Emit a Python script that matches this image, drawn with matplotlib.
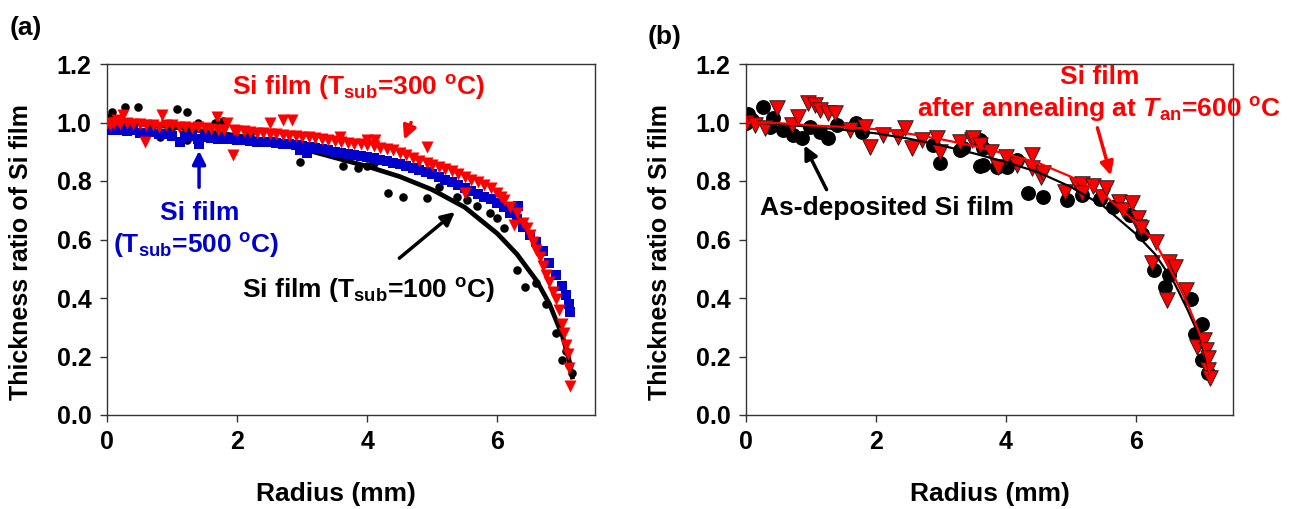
import matplotlib
matplotlib.use("Agg")
import matplotlib.pyplot as plt

plt.rcParams['font.family'] = ['Liberation Sans', 'DejaVu Sans']
plt.rcParams['font.weight'] = 'bold'
plt.rcParams['mathtext.fontset'] = 'custom'
plt.rcParams['mathtext.rm'] = 'Liberation Sans:bold'
plt.rcParams['mathtext.bf'] = 'Liberation Sans:bold'
plt.rcParams['mathtext.it'] = 'Liberation Sans:italic:bold'

# ---------------- Panel (a) data ----------------
a_black_x = [0.0, 0.05, 0.08, 0.15, 0.28, 0.35, 0.48, 0.55, 0.7, 0.82, 1.0, 1.08, 1.23, 1.23, 1.4,
             1.66, 1.78, 2.2, 2.5, 2.97, 3.2, 3.63, 3.85, 4.0, 4.1, 4.32, 4.55, 4.92, 5.1, 5.38,
             5.54, 5.69, 5.89, 6.0, 6.1, 6.3, 6.43, 6.6, 6.75, 6.9, 7.0, 7.05, 7.1, 7.15]
a_black_y = [1.0, 1.02, 1.036, 1.01, 1.054, 1.0, 1.054, 0.967, 0.99, 0.95, 0.985, 1.046, 1.036, 0.94, 0.998,
             0.998, 1.005, 0.96, 0.94, 0.865, 0.92, 0.851, 0.844, 0.85, 0.86, 0.759, 0.745, 0.742, 0.78, 0.745,
             0.735, 0.715, 0.69, 0.674, 0.64, 0.496, 0.437, 0.45, 0.38, 0.28, 0.188, 0.22, 0.17, 0.143]

a_fit_x = [0.0, 0.5, 1.0, 1.5, 2.0, 2.5, 3.0, 3.5, 4.0, 4.5, 5.0, 5.5, 6.0, 6.3, 6.6, 6.8, 7.0, 7.1, 7.15]
a_fit_y = [1.0, 0.995, 0.985, 0.97, 0.955, 0.935, 0.91, 0.88, 0.85, 0.815, 0.77, 0.71, 0.62, 0.55, 0.46, 0.38, 0.27, 0.19, 0.13]

a_red_x = [0.0, 0.05, 0.1, 0.15, 0.2, 0.25, 0.3, 0.4, 0.5, 0.58, 0.6, 0.7, 0.8, 0.85, 0.9, 1.0, 1.1, 1.2,
           1.3, 1.4, 1.5, 1.6, 1.69, 1.7, 1.8, 1.85, 1.94, 1.95, 2.0, 2.1, 2.2, 2.3, 2.4, 2.5, 2.5, 2.6,
           2.7, 2.7, 2.8, 2.85, 2.9, 3.0, 3.1, 3.2, 3.3, 3.4, 3.5, 3.58, 3.6, 3.7, 3.8, 3.9, 4.0, 4.0,
           4.1, 4.12, 4.2, 4.3, 4.4, 4.5, 4.6, 4.7, 4.8, 4.92, 4.92, 5.0, 5.1, 5.2, 5.3, 5.4, 5.5, 5.5,
           5.6, 5.7, 5.8, 5.9, 6.0, 6.05, 6.1, 6.2, 6.25, 6.3, 6.4, 6.45, 6.5, 6.55, 6.6, 6.65, 6.7,
           6.75, 6.8, 6.85, 6.9, 6.95, 7.0, 7.03, 7.06, 7.08, 7.1, 7.12]
a_red_y = [1.0, 0.99, 1.0, 1.01, 0.995, 1.025, 1.0, 0.995, 0.995, 0.933, 0.99, 0.99, 0.985, 1.025, 0.99, 0.99, 0.985, 0.985,
           0.98, 0.985, 0.98, 0.978, 1.02, 0.975, 0.975, 1.0, 0.889, 0.975, 0.97, 0.97, 0.968, 0.965, 0.965, 1.0, 0.962, 0.96,
           1.01, 0.958, 0.955, 1.01, 0.955, 0.952, 0.95, 0.948, 0.945, 0.94, 0.938, 0.95, 0.935, 0.93, 0.928, 0.925, 0.923, 0.94,
           0.918, 0.94, 0.913, 0.91, 0.905, 0.897, 0.89, 0.88, 0.87, 0.917, 0.86, 0.855, 0.848, 0.84, 0.835, 0.825, 0.815, 0.76,
           0.805, 0.795, 0.786, 0.775, 0.76, 0.745, 0.735, 0.71, 0.65, 0.69, 0.656, 0.64, 0.615, 0.59, 0.564, 0.54, 0.51,
           0.48, 0.455, 0.42, 0.395, 0.36, 0.31, 0.28, 0.24, 0.21, 0.16, 0.10]

a_blue_x = [0.0, 0.05, 0.1, 0.2, 0.3, 0.4, 0.5, 0.6, 0.66, 0.8, 0.9, 1.0, 1.12, 1.2, 1.3, 1.4, 1.42, 1.5,
            1.6, 1.7, 1.8, 1.94, 2.0, 2.1, 2.2, 2.3, 2.4, 2.5, 2.6, 2.7, 2.8, 2.9, 2.97, 3.0, 3.08, 3.1,
            3.2, 3.3, 3.4, 3.5, 3.6, 3.7, 3.8, 3.9, 4.0, 4.1, 4.2, 4.3, 4.4, 4.5, 4.6, 4.7, 4.8, 4.9,
            5.0, 5.1, 5.2, 5.3, 5.4, 5.5, 5.6, 5.7, 5.8, 5.9, 6.0, 6.1, 6.2, 6.32, 6.3, 6.4, 6.5, 6.6,
            6.7, 6.8, 6.9, 7.0, 7.05, 7.1, 7.12]
a_blue_y = [0.985, 0.975, 0.98, 0.975, 0.97, 0.975, 0.965, 0.965, 0.967, 0.96, 0.96, 0.955, 0.933, 0.955, 0.955, 0.945, 0.925, 0.95,
            0.948, 0.945, 0.945, 0.944, 0.94, 0.94, 0.937, 0.935, 0.935, 0.932, 0.93, 0.927, 0.925, 0.922, 0.906, 0.92, 0.896, 0.917,
            0.913, 0.91, 0.905, 0.9, 0.896, 0.892, 0.89, 0.885, 0.882, 0.878, 0.872, 0.867, 0.862, 0.857, 0.85, 0.843, 0.837, 0.83,
            0.823, 0.815, 0.805, 0.797, 0.785, 0.775, 0.765, 0.755, 0.745, 0.737, 0.725, 0.71, 0.69, 0.715, 0.67, 0.643, 0.615, 0.59,
            0.56, 0.52, 0.48, 0.44, 0.41, 0.38, 0.352]

# ---------------- Panel (b) data ----------------
b_dep_x = [0.0, 0.03, 0.1, 0.26, 0.37, 0.42, 0.57, 0.72, 0.86, 0.98, 1.14, 1.26, 1.4, 1.7, 1.78, 2.88,
           2.98, 3.29, 3.34, 3.6, 3.6, 3.65, 3.65, 3.86, 4.02, 4.17, 4.34, 4.57, 4.94, 5.18, 5.45, 5.65,
           5.91, 6.1, 6.29, 6.45, 6.52, 6.86, 6.91, 7.02, 7.02, 7.11]
b_dep_y = [1.0, 1.03, 1.01, 1.053, 0.985, 1.015, 0.974, 0.957, 0.947, 0.985, 0.967, 0.947, 0.991, 1.0, 0.967, 0.923,
           0.861, 0.906, 0.913, 0.94, 0.851, 0.913, 0.855, 0.848, 0.848, 0.872, 0.759, 0.745, 0.735, 0.752, 0.74, 0.711,
           0.684, 0.62, 0.496, 0.437, 0.48, 0.397, 0.277, 0.31, 0.188, 0.144]

b_ann_x = [0.0, 0.14, 0.29, 0.48, 0.71, 0.8, 0.95, 1.06, 1.14, 1.26, 1.37, 1.6, 1.83, 1.91, 2.11, 2.34,
           2.45, 2.55, 2.71, 2.94, 2.98, 3.29, 3.48, 3.49, 3.6, 3.78, 3.88, 4.0, 4.18, 4.4, 4.4, 4.55,
           4.57, 4.91, 5.09, 5.18, 5.18, 5.34, 5.49, 5.55, 5.75, 5.8, 5.94, 6.03, 6.06, 6.09, 6.26, 6.32,
           6.49, 6.52, 6.6, 6.78, 6.94, 7.06, 7.09, 7.11, 7.12, 7.14]
b_ann_y = [1.0, 0.991, 0.98, 1.05, 0.99, 1.019, 1.067, 1.06, 1.043, 1.033, 1.033, 0.974, 0.985, 0.916, 0.957, 0.95,
           0.98, 0.913, 0.94, 0.947, 0.899, 0.933, 0.94, 0.947, 0.923, 0.899, 0.848, 0.882, 0.855, 0.889, 0.844, 0.814,
           0.827, 0.762, 0.786, 0.79, 0.759, 0.783, 0.745, 0.776, 0.728, 0.70, 0.725, 0.674, 0.643, 0.64, 0.52, 0.59,
           0.393, 0.523, 0.506, 0.427, 0.233, 0.256, 0.222, 0.195, 0.154, 0.126]

b_fit_x = [0.0, 0.5, 1.0, 1.5, 2.0, 2.5, 3.0, 3.5, 4.0, 4.5, 5.0, 5.5, 6.0, 6.3, 6.6, 6.8, 7.0, 7.1, 7.15]
b_fit_dep_y = [1.0, 0.995, 0.985, 0.975, 0.963, 0.945, 0.922, 0.895, 0.865, 0.83, 0.78, 0.715, 0.62, 0.55, 0.45, 0.36, 0.26, 0.18, 0.13]
b_fit_ann_y = [1.0, 0.998, 0.99, 0.985, 0.977, 0.962, 0.943, 0.92, 0.893, 0.862, 0.815, 0.755, 0.66, 0.59, 0.47, 0.38, 0.27, 0.19, 0.13]

x_ticks = [0, 2, 4, 6]
y_ticks = [0.0, 0.2, 0.4, 0.6, 0.8, 1.0, 1.2]

RED = '#FF0000'
BLUE = '#0000CC'
TICK_FS = 18
YLAB_FS = 18
XLAB_FS = 19
ANN_FS = 19

fig = plt.figure(figsize=(12.91, 5.09), dpi=100)
W, H = 1291, 509
ax1 = fig.add_axes([107 / W, 1 - 415 / H, (595 - 107) / W, (415 - 64) / H])
ax2 = fig.add_axes([746 / W, 1 - 415 / H, (1233 - 746) / W, (415 - 64) / H])

for ax in (ax1, ax2):
    ax.set_xlim(0, 7.5)
    ax.set_ylim(0, 1.2)
    ax.set_xticks(x_ticks)
    ax.set_yticks(y_ticks)
    ax.set_yticklabels([f"{v:.1f}" for v in y_ticks])
    ax.tick_params(direction='out', length=5, width=1, labelsize=TICK_FS,
                   top=False, right=False, color='#333333', pad=6)
    for sp in ax.spines.values():
        sp.set_color('#333333')
        sp.set_linewidth(1.0)
    ax.set_xlabel('Radius (mm)', fontsize=XLAB_FS, fontweight='bold')
    ax.set_ylabel('Thickness ratio of Si film', fontsize=YLAB_FS, fontweight='bold')
    ax.yaxis.set_label_coords(-0.152, 0.464)

ax1.xaxis.set_label_coords(0.47, -0.19)
ax2.xaxis.set_label_coords(0.5, -0.19)

# Panel (a)
ax1.scatter(a_black_x, a_black_y, s=38, color='black', marker='o', linewidths=0, zorder=2)
ax1.plot(a_fit_x, a_fit_y, color='black', lw=3.4, zorder=3)
ax1.scatter(a_blue_x, a_blue_y, s=55, color=BLUE, marker='s', linewidths=0, zorder=4)
ax1.scatter(a_red_x, a_red_y, s=75, color=RED, marker='v', linewidths=0, zorder=5)

ax1.text(1.92, 1.118, r'Si film (T$_{\rm sub}$=300 $^{\rm o}$C)', color=RED,
         fontsize=ANN_FS, fontweight='bold', ha='left', va='center')
ax1.annotate('', xy=(4.55, 0.933), xytext=(4.69, 1.009),
             arrowprops=dict(arrowstyle='-|>', color=RED, lw=2.5, mutation_scale=20))
ax1.text(1.43, 0.69, 'Si film', color=BLUE, fontsize=ANN_FS, fontweight='bold',
         ha='center', va='center')
ax1.text(1.37, 0.578, r'(T$_{\rm sub}$=500 $^{\rm o}$C)', color=BLUE, fontsize=ANN_FS,
         fontweight='bold', ha='center', va='center')
ax1.annotate('', xy=(1.415, 0.913), xytext=(1.415, 0.769),
             arrowprops=dict(arrowstyle='-|>', color=BLUE, lw=2.5, mutation_scale=20))
ax1.text(2.08, 0.427, r'Si film (T$_{\rm sub}$=100 $^{\rm o}$C)', color='black',
         fontsize=ANN_FS, fontweight='bold', ha='left', va='center')
ax1.annotate('', xy=(5.38, 0.70), xytext=(4.46, 0.53),
             arrowprops=dict(arrowstyle='-|>', color='black', lw=2.5, mutation_scale=20))

# Panel (b)
ax2.scatter(b_dep_x, b_dep_y, s=115, color='black', marker='o', linewidths=0, zorder=2)
ax2.scatter(b_ann_x, b_ann_y, s=125, color=RED, marker='v', edgecolors='#222222',
            linewidths=0.7, zorder=3)
ax2.plot(b_fit_x, b_fit_dep_y, color='black', lw=1.6, zorder=4)
ax2.plot(b_fit_x, b_fit_ann_y, color=RED, lw=1.6, zorder=5)

ax2.text(5.45, 1.156, 'Si film', color=RED, fontsize=ANN_FS, fontweight='bold',
         ha='center', va='center')
ax2.text(5.43, 1.043, r'after annealing at $\it{T}$$_{\rm an}$=600 $^{\rm o}$C', color=RED,
         fontsize=ANN_FS, fontweight='bold', ha='center', va='center', clip_on=False)
ax2.annotate('', xy=(5.63, 0.81), xytext=(5.4, 0.991),
             arrowprops=dict(arrowstyle='-|>', color=RED, lw=2.5, mutation_scale=20))
ax2.text(2.17, 0.708, 'As-deposited Si film', color='black', fontsize=ANN_FS,
         fontweight='bold', ha='center', va='center')
ax2.annotate('', xy=(0.88, 0.93), xytext=(1.26, 0.762),
             arrowprops=dict(arrowstyle='-|>', color='black', lw=2.5, mutation_scale=20))

fig.text(10 / W, 1 - 28 / H, '(a)', fontsize=ANN_FS, fontweight='bold', ha='left', va='center')
fig.text(648 / W, 1 - 37 / H, '(b)', fontsize=ANN_FS, fontweight='bold', ha='left', va='center')

fig.savefig('out.png', dpi=100)
